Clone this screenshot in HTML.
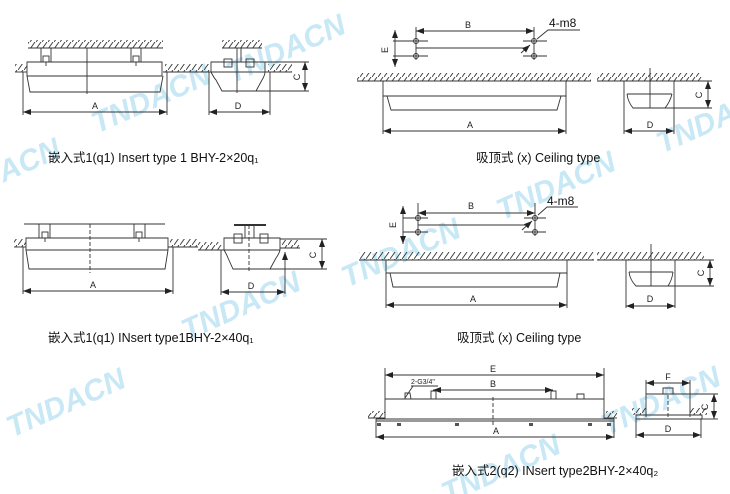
<!DOCTYPE html>
<html><head><meta charset="utf-8"><style>
html,body{margin:0;padding:0;background:#fff;}
svg{display:block;}
.l{stroke:#333;stroke-width:0.9;fill:none;}
.t{font-family:"Liberation Sans",Arial,sans-serif;font-size:9px;fill:#222;}
.cap{font-family:"Liberation Sans","Noto Sans CJK SC",sans-serif;font-size:12.5px;fill:#111;}
.wm{font-family:"Liberation Sans",sans-serif;font-weight:bold;font-style:italic;font-size:30px;fill:#bfe4f4;}
</style></head><body>
<svg width="730" height="494" viewBox="0 0 730 494" xmlns="http://www.w3.org/2000/svg">
<defs>
<pattern id="h" width="6" height="7" patternUnits="userSpaceOnUse"><line x1="0" y1="7" x2="5" y2="0" stroke="#333" stroke-width="0.9"/></pattern>
<marker id="a" markerWidth="8" markerHeight="6" refX="8" refY="3" orient="auto-start-reverse" markerUnits="userSpaceOnUse"><path d="M0,0 L8,3 L0,6 z" fill="#222"/></marker>
</defs>

<!-- watermarks -->
<g opacity="0.85">
<text class="wm" transform="translate(155,108) rotate(-24)" text-anchor="middle">TNDACN</text>
<text class="wm" transform="translate(290,58) rotate(-24)" text-anchor="middle">TNDACN</text>
<text class="wm" transform="translate(5,182) rotate(-24)" text-anchor="middle">TNDACN</text>
<text class="wm" transform="translate(560,195) rotate(-24)" text-anchor="middle">TNDACN</text>
<text class="wm" transform="translate(720,128) rotate(-24)" text-anchor="middle">TNDACN</text>
<text class="wm" transform="translate(405,262) rotate(-24)" text-anchor="middle">TNDACN</text>
<text class="wm" transform="translate(245,315) rotate(-24)" text-anchor="middle">TNDACN</text>
<text class="wm" transform="translate(70,412) rotate(-24)" text-anchor="middle">TNDACN</text>
<text class="wm" transform="translate(665,410) rotate(-24)" text-anchor="middle">TNDACN</text>
<text class="wm" transform="translate(505,478) rotate(-24)" text-anchor="middle">TNDACN</text>
</g>

<!-- ===== Panel 1 ===== -->
<rect x="28" y="40" width="135" height="8" fill="url(#h)"/><line class="l" x1="28" y1="48" x2="163" y2="48"/>
<path class="l" d="M41,48 V62 M51,48 V62 M131,48 V62 M141,48 V62"/>
<rect class="l" x="43" y="56" width="6" height="6"/><rect class="l" x="133" y="56" width="6" height="6"/>
<path class="l" d="M46,62 V66 M136,62 V66"/>
<line class="l" x1="87" y1="48" x2="87" y2="94"/>
<path class="l" d="M27,62 H162 V76 H27 Z M27,76 L30,92 H160 L163,76"/>
<rect x="15" y="64" width="12" height="8" fill="url(#h)"/><line class="l" x1="15" y1="72" x2="27" y2="72"/>
<rect x="165" y="64" width="25" height="8" fill="url(#h)"/><line class="l" x1="163" y1="72" x2="190" y2="72"/>
<path class="l" d="M23,72 V115 M167,72 V115"/>
<line class="l" x1="23" y1="112" x2="167" y2="112" marker-start="url(#a)" marker-end="url(#a)"/>
<text class="t" x="95" y="109" text-anchor="middle">A</text>
<!-- end view 1 -->
<rect x="222" y="40" width="40" height="8" fill="url(#h)"/><line class="l" x1="222" y1="48" x2="262" y2="48"/>
<line class="l" x1="237" y1="48" x2="237" y2="93"/><line class="l" x1="241" y1="48" x2="241" y2="62"/>
<path class="l" d="M211,62 H265 V72 H211 Z"/>
<rect class="l" x="224" y="59" width="8" height="8"/><rect class="l" x="246" y="59" width="8" height="8"/>
<path class="l" d="M211,72 Q214,78 216,80 L222,91 H256 L262,80 Q265,75 265,72"/>
<rect x="190" y="64" width="20" height="8" fill="url(#h)"/><line class="l" x1="190" y1="72" x2="211" y2="72"/>
<rect x="268" y="64" width="24" height="8" fill="url(#h)"/><line class="l" x1="265" y1="72" x2="292" y2="72"/>
<path class="l" d="M265,62 H309 M256,91 H309"/>
<line class="l" x1="305" y1="62" x2="305" y2="91" marker-start="url(#a)" marker-end="url(#a)"/>
<text class="t" transform="translate(300,77) rotate(-90)" text-anchor="middle">C</text>
<path class="l" d="M209,72 V115 M270,72 V115"/>
<line class="l" x1="209" y1="112" x2="270" y2="112" marker-start="url(#a)" marker-end="url(#a)"/>
<text class="t" x="238" y="109" text-anchor="middle">D</text>
<text class="cap" x="48" y="162">嵌入式1(q1) Insert type 1 BHY-2×20q₁</text>

<!-- ===== Panel 2 ===== -->
<path class="l" d="M416,27 V60 M534,27 V60"/>
<line class="l" x1="416" y1="31" x2="534" y2="31" marker-start="url(#a)" marker-end="url(#a)"/>
<text class="t" x="468" y="28" text-anchor="middle">B</text>
<path class="l" d="M393,41 H428 M393,56 H428 M416,48 H528 M523,41 H547 M523,56 H547"/>
<circle class="l" cx="416" cy="41" r="2.5" fill="#fff"/><circle class="l" cx="416" cy="56" r="2.5" fill="#fff"/>
<circle class="l" cx="534" cy="41" r="2.5" fill="#fff"/><circle class="l" cx="534" cy="56" r="2.5" fill="#fff"/>
<line class="l" x1="395" y1="41" x2="395" y2="30" marker-end="url(#a)"/><line class="l" x1="395" y1="56" x2="395" y2="67" marker-end="url(#a)"/>
<line class="l" x1="395" y1="41" x2="395" y2="56"/>
<text class="t" transform="translate(388,50) rotate(-90)" text-anchor="middle">E</text>
<path class="l" d="M580,30 H548 L537,39"/><line class="l" x1="530" y1="45" x2="521" y2="53" marker-start="url(#a)"/>
<text class="cap" x="549" y="27" style="font-size:12px">4-m8</text>
<rect x="357" y="73" width="234" height="8" fill="url(#h)"/><line class="l" x1="357" y1="81" x2="591" y2="81"/>
<rect x="597" y="73" width="105" height="8" fill="url(#h)"/><line class="l" x1="597" y1="81" x2="702" y2="81"/>
<path class="l" d="M383,81 V96 H566 V81 M387,96 L391,110 H557 L561,96"/>
<path class="l" d="M383,96 V134 M566,96 V134"/>
<line class="l" x1="383" y1="131" x2="566" y2="131" marker-start="url(#a)" marker-end="url(#a)"/>
<text class="t" x="470" y="128" text-anchor="middle">A</text>
<path class="l" d="M624,81 V134 M674,81 V134"/>
<path class="l" d="M627,94 H672 M627,94 Q628,102 633,108 H665 Q670,102 672,94"/>
<line class="l" x1="650" y1="68" x2="650" y2="108"/>
<path class="l" d="M674,81 H712 M665,108 H712"/>
<line class="l" x1="708" y1="81" x2="708" y2="108" marker-start="url(#a)" marker-end="url(#a)"/>
<text class="t" transform="translate(702,95) rotate(-90)" text-anchor="middle">C</text>
<line class="l" x1="624" y1="131" x2="674" y2="131" marker-start="url(#a)" marker-end="url(#a)"/>
<text class="t" x="650" y="128" text-anchor="middle">D</text>
<text class="cap" x="476" y="162">吸顶式  (x)  Ceiling type</text>

<!-- ===== Panel 3 ===== -->
<line class="l" x1="24" y1="224" x2="165" y2="224"/>
<path class="l" d="M39,224 V238 M50,224 V238 M134,224 V238 M145,224 V238"/>
<rect class="l" x="42" y="232" width="6" height="6"/><rect class="l" x="136" y="232" width="6" height="6"/>
<path class="l" d="M45,238 V242 M139,238 V242"/>
<line class="l" x1="90" y1="224" x2="90" y2="273" stroke-dasharray="4,2"/>
<path class="l" d="M26,238 H168 V250 H26 Z M26,250 L29,269 H165 L168,250"/>
<rect x="14" y="239" width="12" height="8" fill="url(#h)"/><line class="l" x1="14" y1="247" x2="26" y2="247"/>
<rect x="170" y="239" width="28" height="8" fill="url(#h)"/><line class="l" x1="168" y1="247" x2="198" y2="247"/>
<path class="l" d="M23,247 V294 M173,247 V294"/>
<line class="l" x1="23" y1="291" x2="173" y2="291" marker-start="url(#a)" marker-end="url(#a)"/>
<text class="t" x="93" y="288" text-anchor="middle">A</text>
<line x1="234" y1="225" x2="266" y2="225" stroke="#333" stroke-width="2"/>
<path class="l" d="M245,225 V238 M254,225 V238"/>
<rect class="l" x="234" y="234" width="8" height="9"/><rect class="l" x="260" y="234" width="8" height="9"/>
<path class="l" d="M224,238 H280 V250 H224 Z M224,250 Q227,255 228,258 L233,269 H270 L276,258 Q279,254 280,250"/>
<line class="l" x1="249" y1="225" x2="249" y2="273" stroke-dasharray="4,2"/>
<rect x="198" y="242" width="24" height="8" fill="url(#h)"/><line class="l" x1="198" y1="250" x2="224" y2="250"/>
<rect x="282" y="240" width="18" height="8" fill="url(#h)"/><line class="l" x1="280" y1="248" x2="300" y2="248"/>
<path class="l" d="M280,239 H327 M270,269 H327"/>
<line class="l" x1="322" y1="239" x2="322" y2="269" marker-start="url(#a)" marker-end="url(#a)"/>
<text class="t" transform="translate(316,255) rotate(-90)" text-anchor="middle">C</text>
<line class="l" x1="285" y1="252" x2="285" y2="294" marker-start="url(#a)"/>
<path class="l" d="M221,250 V295"/>
<line class="l" x1="221" y1="292" x2="285" y2="292" marker-start="url(#a)" marker-end="url(#a)"/>
<text class="t" x="251" y="289" text-anchor="middle">D</text>
<text class="cap" x="48" y="342">嵌入式1(q1) INsert type1BHY-2×40q₁</text>

<!-- ===== Panel 4 ===== -->
<path class="l" d="M418,203 V236 M535,203 V236"/>
<line class="l" x1="418" y1="213" x2="535" y2="213" marker-start="url(#a)" marker-end="url(#a)"/>
<text class="t" x="471" y="209" text-anchor="middle">B</text>
<path class="l" d="M403,218 H428 M403,232 H428 M418,225 H528 M524,218 H546 M524,232 H546"/>
<circle class="l" cx="418" cy="218" r="2.5" fill="#fff"/><circle class="l" cx="418" cy="232" r="2.5" fill="#fff"/>
<circle class="l" cx="535" cy="218" r="2.5" fill="#fff"/><circle class="l" cx="535" cy="232" r="2.5" fill="#fff"/>
<line class="l" x1="403" y1="218" x2="403" y2="206" marker-end="url(#a)"/><line class="l" x1="403" y1="232" x2="403" y2="244" marker-end="url(#a)"/>
<line class="l" x1="403" y1="218" x2="403" y2="232"/>
<text class="t" transform="translate(396,225) rotate(-90)" text-anchor="middle">E</text>
<path class="l" d="M578,207 H547 L538,215"/><line class="l" x1="532" y1="221" x2="522" y2="230" marker-start="url(#a)"/>
<text class="cap" x="547" y="205" style="font-size:12px">4-m8</text>
<rect x="359" y="252" width="235" height="8" fill="url(#h)"/><line class="l" x1="359" y1="260" x2="594" y2="260"/>
<rect x="597" y="252" width="107" height="8" fill="url(#h)"/><line class="l" x1="597" y1="260" x2="704" y2="260"/>
<path class="l" d="M386,260 V273 H567 V260 M390,273 L393,287 H557 L560,273"/>
<path class="l" d="M386,273 V308 M567,273 V308"/>
<line class="l" x1="386" y1="305" x2="567" y2="305" marker-start="url(#a)" marker-end="url(#a)"/>
<text class="t" x="473" y="302" text-anchor="middle">A</text>
<path class="l" d="M626,260 V308 M675,260 V308"/>
<path class="l" d="M629,272 H673 M629,272 Q630,280 636,286 H668 Q672,280 673,272"/>
<line class="l" x1="651" y1="244" x2="651" y2="286"/>
<path class="l" d="M675,260 H714 M668,286 H714"/>
<line class="l" x1="710" y1="260" x2="710" y2="286" marker-start="url(#a)" marker-end="url(#a)"/>
<text class="t" transform="translate(704,273) rotate(-90)" text-anchor="middle">C</text>
<line class="l" x1="626" y1="306" x2="675" y2="306" marker-start="url(#a)" marker-end="url(#a)"/>
<text class="t" x="650" y="302" text-anchor="middle">D</text>
<text class="cap" x="457" y="342">吸顶式 (x) Ceiling type</text>

<!-- ===== Panel 5 ===== -->
<path class="l" d="M385,368 V399 M604,368 V419"/>
<line class="l" x1="385" y1="375" x2="604" y2="375" marker-start="url(#a)" marker-end="url(#a)"/>
<text class="t" x="493" y="372" text-anchor="middle">E</text>
<line class="l" x1="433" y1="390" x2="553" y2="390" marker-start="url(#a)" marker-end="url(#a)"/>
<text class="t" x="493" y="387" text-anchor="middle">B</text>
<text class="t" x="411" y="384" style="font-size:7px">2-G3/4"</text>
<path class="l" d="M411,386 H438 M413,386 L405,398"/>
<path class="l" d="M405,399 V393 H410 L411,399 M431,399 V391 H436 V399 M551,399 V391 H556 V399 M577,399 V394 H584 V399"/>
<path class="l" d="M385,399 H604 M385,399 V419 M376,419 H614 M376,421 H614 M376,419 V438 M614,419 V438"/>
<line class="l" x1="493" y1="397" x2="493" y2="426" stroke-dasharray="4,2"/>
<rect x="368" y="411" width="17" height="7" fill="url(#h)"/><line class="l" x1="368" y1="418" x2="385" y2="418"/>
<rect x="605" y="411" width="12" height="7" fill="url(#h)"/><line class="l" x1="604" y1="418" x2="617" y2="418"/>
<g fill="#555"><rect x="377" y="423" width="4" height="3"/><rect x="397" y="423" width="4" height="3"/><rect x="455" y="423" width="4" height="3"/><rect x="529" y="423" width="4" height="3"/><rect x="588" y="423" width="4" height="3"/><rect x="607" y="423" width="4" height="3"/></g>
<line class="l" x1="376" y1="437" x2="614" y2="437" marker-start="url(#a)" marker-end="url(#a)"/>
<text class="t" x="496" y="434" text-anchor="middle">A</text>
<path class="l" d="M646,380 V417 M690,380 V417"/>
<line class="l" x1="646" y1="383" x2="690" y2="383" marker-start="url(#a)" marker-end="url(#a)"/>
<text class="t" x="668" y="380" text-anchor="middle">F</text>
<path class="l" d="M646,394 H718 M663,394 V388 H673 V394"/>
<line class="l" x1="668" y1="395" x2="668" y2="418" stroke-dasharray="4,2"/>
<path class="l" d="M636,415 H702 V419 H636 Z"/>
<rect x="632" y="408" width="14" height="7" fill="url(#h)"/>
<rect x="690" y="408" width="17" height="7" fill="url(#h)"/>
<path class="l" d="M702,419 H718"/>
<line class="l" x1="714" y1="394" x2="714" y2="419" marker-start="url(#a)" marker-end="url(#a)"/>
<text class="t" transform="translate(708,407) rotate(-90)" text-anchor="middle">C</text>
<path class="l" d="M636,419 V438 M701,419 V438"/>
<line class="l" x1="636" y1="435" x2="701" y2="435" marker-start="url(#a)" marker-end="url(#a)"/>
<text class="t" x="668" y="432" text-anchor="middle">D</text>
<text class="cap" x="452" y="475">嵌入式2(q2) INsert type2BHY-2×40q₂</text>
</svg>
</body></html>
